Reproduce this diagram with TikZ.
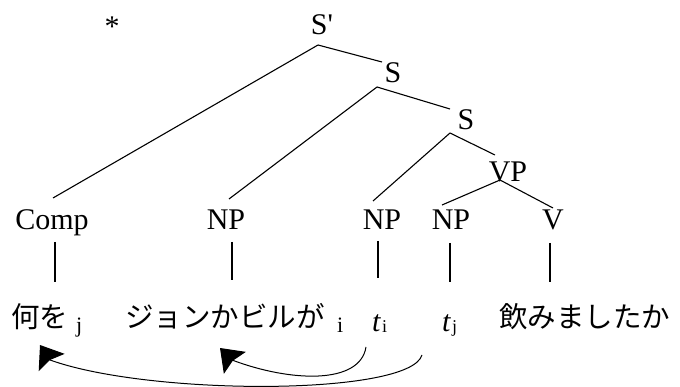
\documentclass[tikz,border=0pt]{standalone}
\usepackage{fontspec}
\setmainfont{Liberation Serif}
\newfontfamily\jp{Noto Sans CJK JP}
\usetikzlibrary{arrows.meta}
\begin{document}
\begin{tikzpicture}[x=1pt,y=-1pt,
  lab/.style={inner sep=0pt,anchor=base,font=\fontsize{30}{30}\selectfont},
  jw/.style={inner sep=0pt,anchor=base west,font=\jp\fontsize{28.5}{28.5}\selectfont},
  sub/.style={inner sep=0pt,anchor=base west,font=\fontsize{18}{18}\selectfont},
  bsub/.style={inner sep=0pt,anchor=base west,font=\fontsize{22}{22}\selectfont},
  br/.style={line width=1.1pt},
  mv/.style={line width=1pt,-{Stealth[length=21pt,width=31pt,inset=3pt]}}]
\useasboundingbox (0,0) rectangle (680,387);
% labels
\node[lab] (star) at (112,37) {*};
\node[lab] (Sp) at (322,35) {S\textquotesingle};
\node[lab] (S1) at (393,83) {S};
\node[lab] (S2) at (466,130) {S};
\node[lab] (VP) at (508,182) {VP};
\node[lab] (Comp) at (52,230) {Comp};
\node[lab] (NPa) at (226,230) {NP};
\node[lab] (NPb) at (382,230) {NP};
\node[lab] (NPc) at (451,230) {NP};
\node[lab] (V) at (553,230) {V};
% attachment points
\coordinate (Sp-b) at (318,45);
\coordinate (S1-t) at (382,62);
\coordinate (S1-b) at (377,87);
\coordinate (S2-t) at (450,109);
\coordinate (S2-b) at (450,133);
\coordinate (VP-t) at (495,155);
\coordinate (VP-b) at (500,180);
\coordinate (Comp-t) at (53,198);
\coordinate (NPa-t) at (229,199);
\coordinate (NPb-t) at (373,201);
\coordinate (NPc-t) at (442,205);
\coordinate (V-t) at (553,208);
\draw[br] (Sp-b) -- (S1-t);
\draw[br] (Sp-b) -- (Comp-t);
\draw[br] (S1-b) -- (NPa-t);
\draw[br] (S1-b) -- (S2-t);
\draw[br] (S2-b) -- (NPb-t);
\draw[br] (S2-b) -- (VP-t);
\draw[br] (VP-b) -- (NPc-t);
\draw[br] (VP-b) -- (V-t);
% words
\node[jw] (w1) at (11,327) {何を};
\node[bsub] (w1s) at (76,332) {j};
\node[jw] (w2) at (125,327) {ジョンかビルが};
\node[bsub] (w2s) at (337,332) {i};
\node[lab,anchor=base west] (ti) at (372,331) {\textit{t}};
\node[sub] (tis) at (382,332) {i};
\node[lab,anchor=base west] (tj) at (442,331) {\textit{t}};
\node[sub] (tjs) at (452,333) {j};
\node[jw] (w5) at (499,327) {飲みましたか};
% unary lines
\coordinate (c1a) at (55,242); \coordinate (c1b) at (55,282);
\coordinate (c2a) at (232,242); \coordinate (c2b) at (232,280);
\coordinate (c3a) at (378,241); \coordinate (c3b) at (378,278);
\coordinate (c4a) at (450,243); \coordinate (c4b) at (450,282);
\coordinate (c5a) at (550,243); \coordinate (c5b) at (550,282);
\draw[br] (c1a) -- (c1b);
\draw[br] (c2a) -- (c2b);
\draw[br] (c3a) -- (c3b);
\draw[br] (c4a) -- (c4b);
\draw[br] (c5a) -- (c5b);
% movement arrows
\coordinate (a1s) at (366,347);
\coordinate (a1n) at (232,360);
\coordinate (a1e) at (220,348);
\coordinate (a2s) at (422,355);
\coordinate (a2n) at (50,360);
\coordinate (a2e) at (40,345);
\draw[mv] (a1s) .. controls (360,385) and (290,382) .. (a1n) -- (a1e);
\draw[mv] (a2s) .. controls (410,396) and (150,396) .. (a2n) -- (a2e);
\end{tikzpicture}
\end{document}
